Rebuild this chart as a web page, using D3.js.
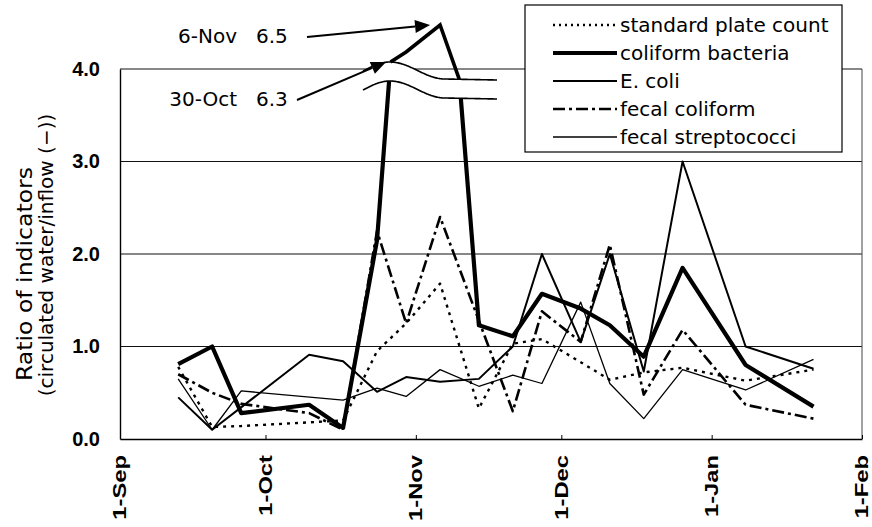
<!DOCTYPE html>
<html>
<head>
<meta charset="utf-8">
<script src="https://cdn.jsdelivr.net/npm/d3@7"></script>
<style>
  html, body { margin: 0; padding: 0; background: #fff; }
  svg { display: block; }
</style>
</head>
<body>
<svg id="chart" width="872" height="527"></svg>
<script>
// Sampling dates (one column per sampling day)
const sampleDates = [
  "2000-09-13", "2000-09-20", "2000-09-26", "2000-10-10", "2000-10-17", "2000-10-24",
  "2000-10-30", "2000-11-06", "2000-11-14", "2000-11-21", "2000-11-27", "2000-12-05",
  "2000-12-11", "2000-12-18", "2000-12-26", "2001-01-08", "2001-01-22"
];

// Ratio circulated water / inflow for each indicator (null = not measured)
const standardPlateCount = [0.78, 0.13, 0.14, 0.18, 0.20, 0.95, 1.25, 1.68, 0.33, 1.03, 1.08, 0.83, 0.64, 0.72, 0.77, 0.63, 0.75];
const coliformBacteria   = [0.81, 1.00, 0.28, 0.37, 0.12, 2.15, 6.3, 6.5, 1.23, 1.11, 1.57, 1.41, 1.23, 0.89, 1.85, 0.80, 0.35];
const eColi              = [0.45, 0.10, null, 0.91, 0.84, 0.51, 0.67, 0.62, 0.65, 1.00, 2.00, 1.05, 2.00, 0.73, 3.00, 1.00, 0.76];
const fecalColiform      = [0.70, 0.50, 0.38, 0.28, 0.10, 2.25, 1.25, 2.40, null, 0.30, 1.38, 1.05, 2.10, 0.48, 1.18, 0.37, 0.22];
const fecalStreptococci  = [0.65, 0.10, 0.52, null, 0.42, 0.55, 0.46, 0.75, 0.57, 0.69, 0.60, 1.48, 0.60, 0.22, 0.75, 0.53, 0.86];

const seriesNames = ["standard plate count", "coliform bacteria", "E. coli", "fecal coliform", "fecal streptococci"];
const seriesValues = [standardPlateCount, coliformBacteria, eColi, fecalColiform, fecalStreptococci];

const yTickValues = [0, 1, 2, 3, 4];
const monthTicks = ["2000-09-01", "2000-10-01", "2000-11-01", "2000-12-01", "2001-01-01", "2001-02-01"];
const yTitleLines = ["Ratio of indicators", "(circulated water/inflow (\u2212))"];

// Off-scale peaks of coliform bacteria, labelled with their values
const peakLabels = ["6-Nov", "30-Oct"];
const peakDates = ["2000-11-06", "2000-10-30"];
const peakValues = [6.5, 6.3];

// ---------------------------------------------------------------
const parse = d3.timeParse("%Y-%m-%d");
const dates = sampleDates.map(parse);

const plot = { left: 120, right: 862, top: 69, bottom: 439 };
const svg = d3.select("#chart");

const x = d3.scaleTime()
  .domain([parse(monthTicks[0]), parse(monthTicks[monthTicks.length - 1])])
  .range([plot.left, plot.right]);
const y = d3.scaleLinear().domain([0, 4]).range([plot.bottom, plot.top]);
// compressed scale used above the axis break
const yPeak = d3.scaleLinear().domain([6.1, 6.5]).range([79, 25]);

const styles = [
  { width: 2.4, dash: "3,5" },
  { width: 4.2, dash: null },
  { width: 2.0, dash: null },
  { width: 2.6, dash: "12,4,3,4" },
  { width: 1.3, dash: null }
];

const sans = "'DejaVu Sans', sans-serif";
const tickFont = "'Liberation Sans', Arial, sans-serif";

// set a text's length along its reading direction
function fitLength(sel, len) {
  sel.each(function () {
    const target = typeof len === "function" ? len(this.getComputedTextLength()) : len;
    this.setAttribute("textLength", target);
    this.setAttribute("lengthAdjust", "spacingAndGlyphs");
  });
}

// gridlines
svg.append("g")
  .selectAll("line")
  .data(yTickValues.filter(v => v > 0))
  .join("line")
  .attr("x1", plot.left).attr("x2", plot.right)
  .attr("y1", d => y(d)).attr("y2", d => y(d))
  .attr("stroke", "#111").attr("stroke-width", 1.1);

// right border of the plot area
svg.append("line")
  .attr("x1", plot.right).attr("x2", plot.right)
  .attr("y1", plot.top).attr("y2", plot.bottom)
  .attr("stroke", "#444").attr("stroke-width", 1);

// y axis
const yAxis = svg.append("g")
  .attr("transform", `translate(${plot.left},0)`)
  .call(d3.axisLeft(y).tickValues(yTickValues).tickFormat(d3.format(".1f")).tickSize(0).tickPadding(20));
yAxis.select(".domain").attr("stroke", "#000").attr("stroke-width", 1.4);
yAxis.selectAll("text")
  .attr("font-family", tickFont).attr("font-weight", "bold").attr("font-size", 20).attr("fill", "#000");

// x axis
const xAxis = svg.append("g")
  .attr("transform", `translate(0,${plot.bottom})`)
  .call(d3.axisBottom(x).tickValues(monthTicks.map(parse))
    .tickFormat(d3.timeFormat("%-d-%b")).tickSizeInner(-4).tickSizeOuter(0));
xAxis.select(".domain").attr("stroke", "#000").attr("stroke-width", 1.6);
xAxis.selectAll(".tick line").attr("stroke", "#000");
xAxis.selectAll("text")
  .attr("font-family", tickFont).attr("font-weight", "bold").attr("font-size", 19).attr("fill", "#000")
  .attr("y", 0).attr("x", 0).attr("dy", "0.36em")
  .attr("text-anchor", "end")
  .attr("transform", "translate(-1,16) rotate(-90)")
  .call(fitLength, w => w * 1.25);

// y axis title
svg.append("g")
  .selectAll("text")
  .data(yTitleLines)
  .join("text")
  .attr("transform", (d, i) => `translate(${i === 0 ? 32 : 53},${i === 0 ? 274 : 255}) rotate(-90)`)
  .attr("text-anchor", "middle")
  .attr("font-family", sans).attr("font-size", (d, i) => i === 0 ? 22 : 20).attr("fill", "#000")
  .text(d => d)
  .each(function (d, i) { if (i === 0) d3.select(this).call(fitLength, 214); });

// ---- axis break geometry (wavy double line) ----
const breakX0 = 363, breakX1 = 497, breakGap = 19;
function lowerWave(xv) {
  if (xv < 390) return 90 - 9 * Math.sin(((xv - breakX0) / 27) * Math.PI / 2);
  if (xv < 445) return 81 + 17 * (1 - Math.cos(((xv - 390) / 55) * Math.PI)) / 2;
  return 98 + (xv - 445) / 52;
}
const upperWave = xv => lowerWave(xv) - breakGap;
const waveXs = d3.range(breakX0, breakX1 + 0.5, 1);

// clip: everything below the upper wave
const clipPts = [[plot.left - 10, plot.bottom + 10], [plot.left - 10, 60], [breakX0, 60]]
  .concat(waveXs.map(xv => [xv, upperWave(xv)]))
  .concat([[breakX1, 60], [plot.right + 10, 60], [plot.right + 10, plot.bottom + 10]]);
svg.append("clipPath").attr("id", "plot-clip")
  .append("polygon").attr("points", clipPts.map(p => p.join(",")).join(" "));

// series lines
const line = d3.line()
  .x(d => x(d.date))
  .y(d => y(d.value));

const drawOrder = [4, 2, 0, 3, 1];
const linesG = svg.append("g").attr("clip-path", "url(#plot-clip)");
drawOrder.forEach(i => {
  const pts = dates.map((d, k) => ({ date: d, value: seriesValues[i][k] })).filter(p => p.value !== null);
  linesG.append("path")
    .datum(pts)
    .attr("d", line)
    .attr("fill", "none")
    .attr("stroke", "#000")
    .attr("stroke-width", styles[i].width)
    .attr("stroke-dasharray", styles[i].dash)
    .attr("stroke-linejoin", "round");
});

// white band between the two waves, then the waves
const band = waveXs.map(xv => [xv, upperWave(xv)]).concat(waveXs.slice().reverse().map(xv => [xv, lowerWave(xv)]));
svg.append("polygon").attr("points", band.map(p => p.join(",")).join(" ")).attr("fill", "#fff");
const waveLine = d3.line();
[upperWave, lowerWave].forEach(fn => {
  svg.append("path")
    .attr("d", waveLine(waveXs.map(xv => [xv, fn(xv)])))
    .attr("fill", "none").attr("stroke", "#000").attr("stroke-width", 1.6);
});

// coliform bacteria above the break
function crossing(p0, p1) {
  const f = t => {
    const xx = p0[0] + (p1[0] - p0[0]) * t, yy = p0[1] + (p1[1] - p0[1]) * t;
    return yy - upperWave(xx);
  };
  let lo = 0, hi = 1;
  const s0 = Math.sign(f(0));
  for (let k = 0; k < 50; k++) {
    const mid = (lo + hi) / 2;
    if (Math.sign(f(mid)) === s0) lo = mid; else hi = mid;
  }
  const xx = p0[0] + (p1[0] - p0[0]) * lo;
  return [xx, upperWave(xx)];
}
const hiIdx = coliformBacteria.map((v, k) => v > 4 ? k : -1).filter(k => k >= 0);
const first = hiIdx[0], last = hiIdx[hiIdx.length - 1];
const px = k => [x(dates[k]), y(coliformBacteria[k])];
const crossL = crossing(px(first - 1), px(first));
const crossR = crossing(px(last), px(last + 1));
const upperPts = [crossL].concat(hiIdx.map(k => [x(dates[k]), yPeak(coliformBacteria[k])])).concat([crossR]);
svg.append("path")
  .attr("d", d3.line()(upperPts))
  .attr("fill", "none").attr("stroke", "#000").attr("stroke-width", 3.6).attr("stroke-linejoin", "miter");

// peak annotations with arrows
const noteText = [{ lx: 237, base: 43, sx: 307, sy: 37, tdx: -10, tdy: 0 },
                  { lx: 237, base: 106, sx: 297, sy: 100, tdx: -20, tdy: 10 }];
peakLabels.forEach((lab, i) => {
  const nt = noteText[i];
  const tip = [x(parse(peakDates[i])) + nt.tdx, yPeak(peakValues[i]) + nt.tdy];
  const g = svg.append("g");
  g.append("text").attr("x", nt.lx).attr("y", nt.base).attr("text-anchor", "end")
    .attr("font-family", sans).attr("font-size", 20).text(lab);
  g.append("text").attr("x", nt.lx + 19).attr("y", nt.base).attr("text-anchor", "start")
    .attr("font-family", sans).attr("font-size", 20).text(d3.format(".1f")(peakValues[i]));
  const dx = tip[0] - nt.sx, dy = tip[1] - nt.sy, len = Math.hypot(dx, dy);
  const ux = dx / len, uy = dy / len, hl = 15, hw = 6.5;
  const base = [tip[0] - ux * hl, tip[1] - uy * hl];
  g.append("line").attr("x1", nt.sx).attr("y1", nt.sy).attr("x2", base[0]).attr("y2", base[1])
    .attr("stroke", "#000").attr("stroke-width", 2);
  g.append("polygon")
    .attr("points", [tip, [base[0] - uy * hw, base[1] + ux * hw], [base[0] + uy * hw, base[1] - ux * hw]]
      .map(p => p.join(",")).join(" "))
    .attr("fill", "#000");
});

// legend
const legend = svg.append("g");
legend.append("rect").attr("x", 525).attr("y", 5).attr("width", 317).attr("height", 147)
  .attr("fill", "#fff").attr("stroke", "#000").attr("stroke-width", 1.2);
const rowY = d3.scalePoint().domain(seriesNames).range([25, 137]);
seriesNames.forEach((name, i) => {
  const yy = rowY(name);
  legend.append("line").attr("x1", 553).attr("x2", 617).attr("y1", yy).attr("y2", yy)
    .attr("stroke", "#000").attr("stroke-width", styles[i].width)
    .attr("stroke-dasharray", styles[i].dash === "3,5" ? "2,4" : styles[i].dash);
  legend.append("text").attr("x", 620).attr("y", yy + 7)
    .attr("font-family", sans).attr("font-size", 20).attr("fill", "#000").text(name);
});
</script>
</body>
</html>
